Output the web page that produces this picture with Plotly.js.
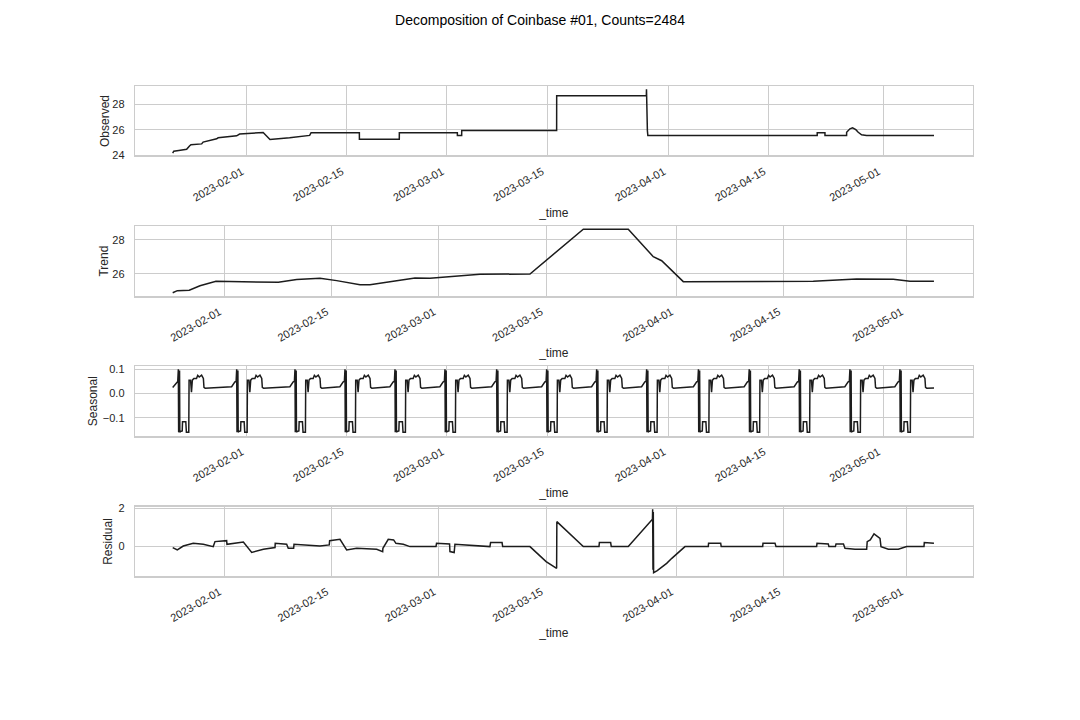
<!DOCTYPE html>
<html><head><meta charset="utf-8">
<script src="https://cdn.plot.ly/plotly-3.0.1.min.js"></script>
<style>html,body{margin:0;padding:0;background:#fff}</style>
</head><body><div id="chart" style="width:1080px;height:720px"></div>
<script>
// ---------- DATA ----------
const chartTitle = 'Decomposition of Coinbase #01, Counts=2484';
const tickDates = ['2023-02-01','2023-02-15','2023-03-01','2023-03-15','2023-04-01','2023-04-15','2023-05-01'];

const observedTime = [
 '2023-01-21 15:36','2023-01-21 19:12','2023-01-22 12:00','2023-01-23 14:24','2023-01-24 00:00','2023-01-24 04:48',
 '2023-01-25 16:48','2023-01-25 21:36','2023-01-27 19:12','2023-01-28 00:00','2023-01-30 14:24','2023-01-31 00:00',
 '2023-02-03 07:12','2023-02-04 06:00','2023-02-07 00:00','2023-02-09 19:12','2023-02-10 00:00','2023-02-16 18:00',
 '2023-02-16 18:10','2023-02-22 08:00','2023-02-22 08:10','2023-03-02 10:48','2023-03-02 10:58','2023-03-03 01:20',
 '2023-03-03 01:30','2023-03-16 08:00','2023-03-16 08:10','2023-03-28 21:00','2023-03-28 21:30','2023-03-28 22:30',
 '2023-03-28 23:30','2023-03-29 00:30','2023-03-29 02:00','2023-04-21 18:20','2023-04-21 18:30','2023-04-22 20:20',
 '2023-04-22 20:30','2023-04-25 21:00','2023-04-25 21:10','2023-04-26 08:10','2023-04-26 17:00','2023-04-27 04:00',
 '2023-04-27 12:00','2023-04-27 23:20','2023-04-28 16:00','2023-05-08 02:24'];
const observedValue = [
 24.15,24.30,24.36,24.45,24.72,24.82,
 24.88,25.02,25.28,25.36,25.52,25.66,
 25.78,25.23,25.36,25.55,25.76,25.76,
 25.25,25.25,25.76,25.76,25.55,25.55,
 25.94,25.94,28.69,28.69,29.20,26.00,
 29.05,25.94,25.55,25.55,25.77,25.77,
 25.55,25.55,25.80,26.07,26.15,26.00,
 25.80,25.60,25.55,25.55];

const trendTime = [
 '2023-01-25 06:29','2023-01-25 20:53','2023-01-27 10:19','2023-01-28 19:55','2023-01-30 22:05','2023-02-03 22:05',
 '2023-02-08 01:12','2023-02-10 10:48','2023-02-13 11:46','2023-02-15 16:05','2023-02-18 17:02','2023-02-20 00:14',
 '2023-02-23 22:19','2023-02-25 21:22','2023-02-27 20:10','2023-03-06 08:53','2023-03-12 21:22','2023-03-19 20:24',
 '2023-03-25 17:17','2023-03-28 23:31','2023-03-30 01:55','2023-04-01 21:36','2023-04-18 20:38','2023-04-23 05:17',
 '2023-04-24 12:29','2023-04-29 07:12','2023-05-01 11:31','2023-05-04 14:38'];
const trendValue = [
 24.90,25.02,25.05,25.31,25.57,25.55,
 25.51,25.67,25.75,25.61,25.37,25.37,
 25.63,25.76,25.75,25.98,26.00,28.63,
 28.63,27.02,26.78,25.55,25.57,25.67,
 25.71,25.69,25.57,25.57];

// seasonal: one repeating cycle placed at each observed cycle start
const seasonalCycleStarts = [
 '2023-01-22 10:34','2023-01-30 14:24','2023-02-07 18:00','2023-02-14 17:46','2023-02-21 17:31',
 '2023-02-28 17:17','2023-03-07 22:48','2023-03-14 22:34','2023-03-21 22:19','2023-03-28 22:05',
 '2023-04-05 03:50','2023-04-12 06:14','2023-04-19 06:00','2023-04-26 08:10','2023-05-03 07:55'];
const seasonalHeadHours  = [0,1,2,3,4,5,7,13,14,25,27,33,35,36,41,44,47,52,61,65,70,78,84,86,90];
const seasonalHeadValues = [0.100,-0.160,0.090,-0.155,0.095,-0.160,-0.157,-0.155,-0.117,-0.117,-0.160,-0.160,-0.160,
                            0.055,0.055,0.005,0.055,0.062,0.062,0.075,0.068,0.076,0.062,0.025,0.022];
const seasonalTailHours  = [-17,-11,-6,-2];
const seasonalTailValues = [0.028,0.040,0.048,0.050];
const seasonalEnds       = ['2023-01-21 15:36','2023-05-08 02:24'];
const seasonalEndValues  = [0.025,0.023];

const residTime = [
 '2023-01-25 06:29','2023-01-25 20:53','2023-01-26 15:36','2023-01-27 22:48','2023-01-29 06:14','2023-01-30 13:26',
 '2023-01-30 18:58','2023-02-01 07:26','2023-02-01 08:24','2023-02-02 14:53','2023-02-03 11:46','2023-02-04 13:55',
 '2023-02-06 02:24','2023-02-07 14:53','2023-02-07 15:36','2023-02-09 03:22','2023-02-09 08:24','2023-02-10 01:12',
 '2023-02-10 02:24','2023-02-13 11:46','2023-02-14 16:48','2023-02-14 18:00','2023-02-16 02:24','2023-02-16 23:17',
 '2023-02-18 06:43','2023-02-20 21:22','2023-02-21 16:05','2023-02-21 16:48','2023-02-22 09:36','2023-02-23 02:24',
 '2023-02-23 09:36','2023-02-24 08:38','2023-02-25 05:31','2023-02-28 15:07','2023-02-28 16:48','2023-03-02 09:36',
 '2023-03-02 10:48','2023-03-03 00:00','2023-03-03 02:24','2023-03-07 16:05','2023-03-07 18:00','2023-03-09 06:00',
 '2023-03-09 07:55','2023-03-12 21:22','2023-03-14 20:24','2023-03-15 00:00','2023-03-16 08:53','2023-03-16 09:36',
 '2023-03-19 20:24','2023-03-21 21:36','2023-03-21 22:48','2023-03-23 10:05','2023-03-23 12:00','2023-03-25 17:17',
 '2023-03-28 21:00','2023-03-28 21:40','2023-03-28 22:40','2023-03-28 23:40','2023-03-29 00:40','2023-03-29 12:00',
 '2023-03-30 17:31','2023-03-31 09:36','2023-04-02 02:53','2023-04-05 03:50','2023-04-05 04:48','2023-04-06 18:43',
 '2023-04-06 20:24','2023-04-12 06:14','2023-04-12 07:12','2023-04-13 20:53','2023-04-14 00:00','2023-04-19 07:12',
 '2023-04-19 08:24','2023-04-20 19:41','2023-04-20 21:36','2023-04-21 18:00','2023-04-21 19:55','2023-04-22 19:12',
 '2023-04-23 00:00','2023-04-24 07:12','2023-04-25 19:55','2023-04-25 21:36','2023-04-26 07:12','2023-04-26 18:58',
 '2023-04-27 02:24','2023-04-27 13:41','2023-04-27 16:48','2023-04-28 15:50','2023-04-29 23:02','2023-05-01 01:12',
 '2023-05-03 07:26','2023-05-03 08:24','2023-05-04 14:38'];
const residValue = [
 -0.05,-0.17,0.03,0.17,0.12,0.00,
 0.26,0.31,0.12,0.17,0.24,-0.30,
 -0.14,-0.05,0.17,0.12,-0.09,-0.09,
 0.12,0.03,0.09,0.31,0.38,-0.17,
 -0.09,-0.14,-0.26,-0.09,0.38,0.35,
 0.17,0.12,0.00,0.00,0.17,0.14,
 -0.26,-0.31,0.12,0.00,0.21,0.21,
 0.00,0.00,-0.70,-0.78,-1.13,1.30,
 0.00,0.00,0.21,0.21,0.00,0.00,
 1.43,1.95,-1.20,1.80,-1.36,-1.25,
 -0.87,-0.61,0.00,0.00,0.17,0.17,
 0.00,0.00,0.17,0.17,0.00,0.00,
 0.17,0.14,0.00,0.00,0.14,0.14,
 -0.09,-0.14,-0.14,0.26,0.35,0.66,
 0.56,0.43,0.00,-0.14,-0.14,0.00,
 0.00,0.21,0.17];

// ---------- BUILD SEASONAL SERIES ----------
function toMs(s){const [d,t]=s.split(' ');const [Y,M,D]=d.split('-').map(Number);const [h,m]=(t||'00:00').split(':').map(Number);return Date.UTC(Y,M-1,D,h,m);}
function fmt(ms){return new Date(ms).toISOString().replace('T',' ').slice(0,19);}
const sStart = toMs(seasonalEnds[0]), sEnd = toMs(seasonalEnds[1]);
const seasonalTime=[fmt(sStart)], seasonalValue=[seasonalEndValues[0]];
seasonalCycleStarts.forEach(function(c){
  const c0 = toMs(c);
  seasonalTailHours.forEach(function(h,i){const t=c0+h*3600e3; if(t>sStart){seasonalTime.push(fmt(t));seasonalValue.push(seasonalTailValues[i]);}});
  seasonalHeadHours.forEach(function(h,i){const t=c0+h*3600e3; if(t<sEnd){seasonalTime.push(fmt(t));seasonalValue.push(seasonalHeadValues[i]);}});
});
seasonalTime.push(fmt(sEnd)); seasonalValue.push(seasonalEndValues[1]);

// ---------- LAYOUT ----------
const FONT = 'Liberation Sans, Arial, sans-serif';
const INK = '#262626';
const lineStyle = {color:'#1c1c1c', width:1.5};
const obsRange = ['2023-01-16 09:07','2023-05-13 12:00'];
const trendRange = ['2023-01-20 08:24','2023-05-09 15:50'];
const xDom = [0.125, 0.9006];

function xAxis(anchor, range){
  return {domain:xDom, anchor:anchor, type:'date', range:range,
    tickvals:tickDates, ticktext:tickDates, tickangle:-30, ticklabelshift:-5,
    showgrid:true, gridcolor:'#cccccc', gridwidth:1, zeroline:false,
    showline:true, linecolor:'#cccccc', linewidth:1.25, mirror:true,
    ticks:'outside', ticklen:4, tickcolor:'rgba(0,0,0,0)',
    tickfont:{family:FONT,size:11,color:INK},
    title:{text:'_time', font:{family:FONT,size:12,color:INK}}};
}
function yAxis(anchor, dom, range, vals, texts, label, standoff){
  return {domain:dom, anchor:anchor, range:range, tickvals:vals, ticktext:texts,
    showgrid:true, gridcolor:'#cccccc', gridwidth:1, zeroline:false,
    showline:true, linecolor:'#cccccc', linewidth:1.25, mirror:true,
    ticks:'outside', ticklen:7, tickcolor:'rgba(0,0,0,0)',
    tickfont:{family:FONT,size:11,color:INK},
    title:{text:label, standoff:standoff, font:{family:FONT,size:12,color:INK}}};
}

const traces = [
  {x:observedTime, y:observedValue, xaxis:'x', yaxis:'y', mode:'lines', line:lineStyle, hoverinfo:'skip'},
  {x:trendTime, y:trendValue, xaxis:'x2', yaxis:'y2', mode:'lines', line:lineStyle, hoverinfo:'skip'},
  {x:seasonalTime, y:seasonalValue, xaxis:'x3', yaxis:'y3', mode:'lines', line:lineStyle, hoverinfo:'skip'},
  {x:residTime, y:residValue, xaxis:'x4', yaxis:'y4', mode:'lines', line:lineStyle, hoverinfo:'skip'}
];

const layout = {
  width:1080, height:720, margin:{l:0,r:0,t:0,b:0},
  paper_bgcolor:'#ffffff', plot_bgcolor:'#ffffff', showlegend:false,
  font:{family:FONT, color:INK},
  title:{text:chartTitle, x:0.5, xanchor:'center', y:1-20/720, yanchor:'middle', font:{family:FONT,size:14,color:'#000000'}},
  xaxis:  xAxis('y', obsRange),
  yaxis:  yAxis('x', [0.7833,0.8806], [23.92,29.46], [24,26,28], ['24','26','28'], 'Observed', 0),
  xaxis2: xAxis('y2', trendRange),
  yaxis2: yAxis('x2', [0.5885,0.6861], [24.69,28.82], [26,28], ['26','28'], 'Trend', 1),
  xaxis3: xAxis('y3', obsRange),
  yaxis3: yAxis('x3', [0.3940,0.4917], [-0.177,0.1137], [-0.1,0,0.1], ['\u22120.1','0.0','0.1'], 'Seasonal', 2),
  xaxis4: xAxis('y4', trendRange),
  yaxis4: yAxis('x4', [0.1996,0.2963], [-1.545,2.08], [0,2], ['0','2'], 'Residual', 3)
};

Plotly.newPlot('chart', traces, layout, {staticPlot:true, displayModeBar:false});
</script>
</body></html>
